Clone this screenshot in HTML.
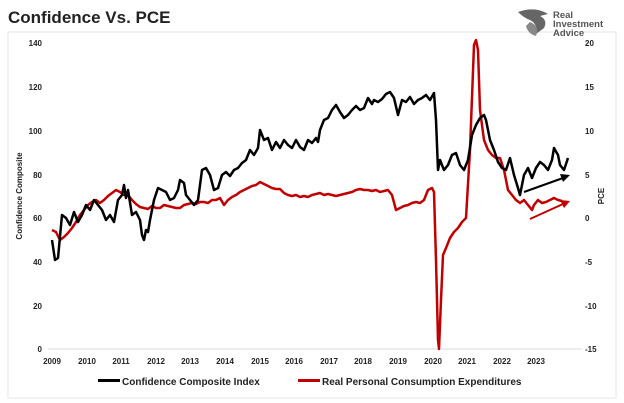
<!DOCTYPE html>
<html><head><style>
body{margin:0;background:#fff;}
svg{display:block;font-family:"Liberation Sans",Arial,sans-serif;}
</style></head><body>
<svg width="624" height="403" viewBox="0 0 624 403">
<rect width="624" height="403" fill="#fff"/>
<rect x="8" y="32" width="608" height="366" fill="none" stroke="#e6e6e6"/>
<text x="8" y="23" font-size="17" font-weight="bold" fill="#222">Confidence Vs. PCE</text>
<!-- logo -->
<path d="M518 12 Q535 6 548 14 L540 16 Q548 20 544 28 L536 34 Q538 24 530 20 Q524 18 518 12Z" fill="#666"/>
<path d="M530 22 Q540 26 536 36 Q528 34 526 26Z" fill="#888"/>
<text x="553" y="18" font-size="9.5" font-weight="bold" fill="#555">Real</text>
<text x="553" y="27" font-size="9.5" font-weight="bold" fill="#555">Investment</text>
<text x="553" y="36" font-size="9.5" font-weight="bold" fill="#555">Advice</text>
<!-- axes labels -->
<g font-size="8" font-weight="bold" fill="#222" text-anchor="end">
<text x="42" y="46">140</text><text x="42" y="90">120</text><text x="42" y="134">100</text>
<text x="42" y="178">80</text><text x="42" y="221">60</text><text x="42" y="265">40</text>
<text x="42" y="309">20</text><text x="42" y="352">0</text>
</g>
<g font-size="8" font-weight="bold" fill="#222" text-anchor="start">
<text x="585" y="46">20</text><text x="585" y="90">15</text><text x="585" y="134">10</text>
<text x="585" y="178">5</text><text x="585" y="221">0</text><text x="585" y="265">-5</text>
<text x="585" y="309">-10</text><text x="585" y="352">-15</text>
</g>
<g font-size="8" font-weight="bold" fill="#222" text-anchor="middle">
<text x="52" y="364">2009</text><text x="87" y="364">2010</text><text x="121" y="364">2011</text>
<text x="156" y="364">2012</text><text x="190" y="364">2013</text><text x="225" y="364">2014</text>
<text x="260" y="364">2015</text><text x="294" y="364">2016</text><text x="329" y="364">2017</text>
<text x="363" y="364">2018</text><text x="398" y="364">2019</text><text x="433" y="364">2020</text>
<text x="467" y="364">2021</text><text x="502" y="364">2022</text><text x="536" y="364">2023</text>
</g>
<text transform="translate(22,196) rotate(-90)" font-size="8" font-weight="bold" fill="#222" text-anchor="middle">Confidence Composite</text>
<text transform="translate(604,196) rotate(-90)" font-size="8" font-weight="bold" fill="#222" text-anchor="middle">PCE</text>
<line x1="48" y1="349" x2="582" y2="349" stroke="#d9d9d9"/>
<!-- red series -->
<polyline fill="none" stroke="#c00000" stroke-width="2.5" stroke-linejoin="round" points="52,230 56,232 60,240 64,237 68,233 72,228 76,222 80,215 84,210 88,205 92,202 96,200 100,203 104,200 108,196 112,193 116,190 120,192 124,195 128,195 132,200 136,204 140,207 144,208 148,209 152,206 156,208 160,208 164,205 168,206 172,207 176,208 180,208 184,205 188,204 192,203 196,204 200,202 204,202 208,203 212,200 216,200 220,198 224,205 228,200 232,197 236,195 240,192 244,190 248,188 252,186 256,185 260,182 264,184 268,186 272,188 276,189 280,189 284,193 288,195 292,196 296,195 300,197 304,196 308,197 312,195 316,194 320,193 324,195 328,194 332,195 336,196 340,195 344,194 348,193 352,192 356,190 360,189 364,190 368,190 372,191 376,190 380,192 384,191 388,190 392,195 396,210 400,208 404,206 408,205 412,203 416,202 420,203 424,200 428,190 432,188 434,192 436,260 438,340 439,349 441,300 443,255 446,248 450,238 454,232 458,228 462,222 466,218 470,150 474,45 476,40 478,50 480,110 484,140 488,150 492,155 496,158 500,158 504,170 508,190 512,195 516,200 520,203 524,200 528,205 532,210 534,205 538,200 542,203 546,202 550,200 554,198 558,200 562,201"/>
<!-- black series -->
<polyline fill="none" stroke="#000" stroke-width="2.5" stroke-linejoin="round" points="52,240 55,260 58,258 62,215 66,218 70,225 74,212 78,222 82,215 86,205 90,210 94,200 98,205 102,210 106,220 110,215 114,222 118,200 122,195 124,185 126,198 128,190 132,215 136,212 140,220 142,235 144,240 146,230 148,232 150,220 154,200 158,188 162,190 166,192 170,200 174,198 178,190 180,180 184,183 186,195 190,200 194,205 198,200 202,170 206,168 210,175 214,190 218,188 222,175 226,172 230,176 234,170 238,168 242,163 246,160 250,150 254,155 258,148 260,130 264,140 268,138 272,150 276,142 280,148 284,140 288,145 292,148 296,140 300,147 304,150 308,140 312,143 316,138 318,142 320,130 324,120 328,118 332,110 336,105 340,112 344,118 348,115 352,110 356,106 360,110 364,108 368,98 372,104 374,100 378,102 382,99 386,94 390,92 394,98 398,115 402,100 406,102 410,97 414,104 418,100 422,98 426,95 430,100 434,93 436,120 438,170 440,160 444,170 448,165 452,155 456,153 460,165 464,170 468,160 472,135 476,125 480,118 484,115 486,120 490,140 494,150 498,162 502,168 506,170 510,158 514,175 518,188 520,195 524,175 528,168 532,178 536,168 540,162 544,165 548,170 552,160 554,148 558,155 560,165 564,170 568,158"/>
<!-- arrows -->
<line x1="524" y1="192" x2="563" y2="178" stroke="#000" stroke-width="2"/>
<polygon points="570,175 560,174 563,182" fill="#000"/>
<line x1="530" y1="219" x2="563" y2="204" stroke="#c00000" stroke-width="2"/>
<polygon points="570,201 560,200 564,208" fill="#c00000"/>
<!-- legend -->
<rect x="98" y="379" width="22" height="3" fill="#000"/>
<text x="122" y="385" font-size="10" font-weight="bold" fill="#222">Confidence Composite Index</text>
<rect x="298" y="379" width="22" height="3" fill="#c00000"/>
<text x="322" y="385" font-size="10" font-weight="bold" fill="#222">Real Personal Consumption Expenditures</text>
</svg>
</body></html>
